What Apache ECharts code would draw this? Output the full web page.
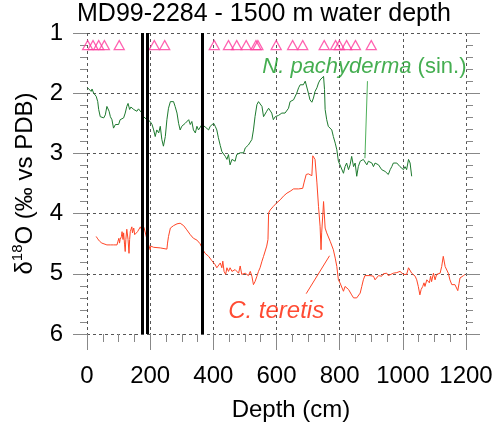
<!DOCTYPE html>
<html>
<head>
<meta charset="utf-8">
<script src="https://cdn.jsdelivr.net/npm/echarts@6/dist/echarts.min.js"></script>
<style>
  html, body { margin: 0; padding: 0; background: #fff; }
  #chart { width: 496px; height: 428px; }
</style>
</head>
<body>
<div id="chart"></div>
<script>
// N. pachyderma (sin.) δ18O: [depth cm, ‰]
const pachydermaData = [[2,1.91],[8,1.89],[13,1.97],[16,1.93],[21,2.00],[26,1.97],[29,2.05],[34,2.14],[37,2.27],[42,2.39],[47,2.40],[53,2.41],[58,2.36],[63,2.22],[66,2.19],[70,2.30],[74,2.39],[79,2.44],[84,2.58],[90,2.52],[95,2.50],[100,2.52],[105,2.44],[111,2.47],[116,2.41],[121,2.33],[126,2.22],[130,2.17],[135,2.27],[139,2.23],[148,2.27],[153,2.25],[158,2.30],[163,2.26],[169,2.27],[174,2.33],[179,2.39],[184,2.41],[190,2.44],[195,2.41],[200,2.47],[206,2.52],[211,2.61],[216,2.72],[221,2.61],[227,2.66],[232,2.55],[237,2.77],[242,2.88],[248,2.72],[253,2.44],[258,2.25],[264,2.14],[269,2.11],[274,2.14],[279,2.22],[285,2.33],[290,2.50],[295,2.61],[300,2.55],[306,2.52],[311,2.50],[316,2.47],[322,2.44],[327,2.52],[332,2.47],[337,2.61],[343,2.66],[348,2.55],[353,2.61],[358,2.58],[364,2.52],[369,2.55],[374,2.56],[380,2.58],[385,2.61],[390,2.55],[395,2.52],[401,2.50],[406,2.55],[411,2.61],[416,2.74],[422,2.87],[427,2.97],[432,2.94],[438,3.05],[443,3.10],[448,3.02],[453,3.19],[459,3.10],[464,3.08],[469,3.13],[474,3.02],[480,3.05],[485,2.99],[490,2.97],[496,2.99],[501,2.91],[506,2.88],[511,2.86],[517,2.83],[522,2.77],[527,2.61],[532,2.39],[538,2.19],[543,2.14],[548,2.16],[554,2.22],[559,2.39],[564,2.36],[569,2.30],[575,2.25],[580,2.22],[585,2.33],[590,2.44],[596,2.39],[601,2.36],[606,2.37],[612,2.36],[617,2.33],[622,2.36],[627,2.33],[633,2.30],[638,2.25],[643,2.14],[654,2.11],[664,2.00],[670,1.91],[675,1.86],[680,1.83],[685,1.86],[691,1.80],[696,1.83],[701,2.00],[706,2.11],[712,2.15],[717,2.08],[722,1.97],[728,1.91],[733,1.83],[738,1.78],[743,1.75],[749,1.72],[752,1.94],[754,2.27],[759,2.44],[764,2.55],[770,2.55],[775,2.61],[780,2.72],[786,2.83],[791,2.94],[796,3.13],[801,3.19],[807,3.16],[812,3.33],[817,3.22],[822,3.16],[828,3.27],[833,3.19],[838,3.05],[844,3.22],[849,3.16],[854,3.38],[859,3.22],[865,3.13],[870,3.16],[875,3.10],[880,3.08],[886,3.19],[891,3.13],[896,3.10],[902,3.16],[907,3.22],[912,3.16],[917,3.13],[923,3.19],[928,3.22],[933,3.27],[938,3.24],[944,3.30],[949,3.33],[954,3.35],[960,3.27],[965,3.22],[970,3.16],[975,3.13],[981,3.16],[986,3.19],[991,3.22],[996,3.24],[1002,3.27],[1007,3.22],[1012,3.27],[1018,3.10],[1023,3.16],[1028,3.38]];

// C. teretis δ18O: [depth cm, ‰]
const teretisData = [[29,4.38],[34,4.42],[40,4.46],[47,4.49],[53,4.50],[63,4.52],[74,4.52],[84,4.52],[95,4.52],[98,4.46],[101,4.41],[103,4.49],[105,4.43],[109,4.38],[111,4.30],[114,4.43],[116,4.32],[119,4.52],[121,4.63],[123,4.43],[126,4.26],[130,4.43],[133,4.66],[135,4.43],[137,4.30],[142,4.22],[144,4.32],[148,4.24],[151,4.35],[156,4.32],[160,4.30],[165,4.27],[169,4.22],[173,4.27],[177,4.20],[181,4.24],[186,4.27],[190,4.43],[200,4.60],[202,4.54],[211,4.56],[232,4.57],[253,4.59],[255,4.49],[258,4.38],[264,4.24],[274,4.20],[285,4.17],[295,4.16],[306,4.20],[316,4.27],[327,4.35],[337,4.41],[348,4.44],[358,4.50],[367,4.60],[374,4.66],[385,4.71],[395,4.78],[406,4.85],[411,4.90],[416,4.88],[422,4.82],[427,4.90],[430,4.79],[434,4.96],[439,5.01],[443,4.90],[448,4.96],[453,4.90],[459,4.96],[464,4.99],[469,4.93],[474,4.94],[480,4.99],[485,4.87],[490,5.01],[496,5.04],[501,4.99],[506,5.01],[511,5.03],[517,4.96],[522,5.04],[527,5.18],[532,5.13],[538,5.04],[543,4.96],[548,4.90],[554,4.79],[559,4.71],[564,4.68],[569,4.54],[573,4.43],[575,3.99],[580,3.94],[590,3.88],[601,3.82],[612,3.77],[622,3.71],[633,3.66],[643,3.63],[654,3.59],[670,3.59],[683,3.58],[687,3.49],[694,3.35],[701,3.34],[706,3.33],[712,3.37],[715,3.04],[717,3.02],[722,3.10],[728,3.49],[733,3.88],[738,4.21],[741,4.60],[743,4.32],[747,3.99],[749,3.80],[751,3.82],[754,4.24],[759,4.32],[770,4.46],[780,4.60],[786,4.74],[791,4.88],[796,5.10],[801,5.15],[807,5.18],[812,5.29],[817,5.21],[822,5.24],[828,5.26],[833,5.24],[838,5.35],[844,5.40],[849,5.37],[854,5.40],[859,5.37],[865,5.32],[870,5.21],[875,5.10],[880,5.03],[886,5.04],[896,5.03],[907,5.04],[912,5.10],[917,5.07],[923,5.03],[928,5.01],[933,5.04],[938,5.00],[944,5.03],[949,4.99],[954,5.03],[960,5.01],[970,4.99],[981,4.98],[991,4.96],[996,4.99],[1002,5.01],[1007,4.99],[1012,5.01],[1018,4.90],[1023,4.93],[1028,4.99],[1033,5.01],[1039,5.04],[1044,5.10],[1049,5.21],[1054,5.35],[1058,5.26],[1063,5.21],[1067,5.15],[1070,5.21],[1076,5.10],[1081,5.07],[1084,5.15],[1088,5.04],[1091,5.13],[1097,4.99],[1102,5.10],[1107,5.01],[1112,5.04],[1118,4.99],[1123,4.88],[1128,4.71],[1131,4.74],[1134,4.88],[1139,4.90],[1144,4.99],[1149,5.10],[1155,5.18],[1160,5.20],[1165,5.18],[1170,5.21],[1174,5.28],[1178,5.16],[1181,5.07],[1186,5.04],[1192,5.03],[1197,5.01]];

// Depths of the dated levels (open triangles) and their plotting row
const datedDepths = [2, 19, 37, 55, 102, 213, 246, 403, 448, 474, 504, 535, 541, 599, 651, 683, 751, 787, 799, 822, 850, 900];
const datedRow = 1.2;

// Depths of the event horizons (black vertical bars)
const eventDepths = [176, 192, 364];

// Leader lines from the species labels to their curves
const pachydermaLeader = [[888, 1.80], [880, 3.08]];
const teretisLeader = [[768, 4.70], [694, 5.33]];

// Label anchors [depth, δ18O]
const pachydermaLabelAt = [555, 1.56];
const teretisLabelAt = [447, 5.63];

const FONT = '"Liberation Sans", Arial, Helvetica, sans-serif';
const GRID_COLOR = '#555';
const TICK_COLOR = '#888';
const GREEN = '#1d7a2e';
const GREEN_TEXT = '#169a26';
const RED = '#ff4526';
const RED_TEXT = '#ff1e00';
const PINK = '#ff3a9c';

const chart = echarts.init(document.getElementById('chart'), null, { renderer: 'canvas' });

const yAxisBase = {
  type: 'value',
  inverse: true,
  min: 1,
  max: 6,
  interval: 1,
  axisLine: { show: false },
  axisTick: { show: true, inside: false, length: 14, lineStyle: { color: TICK_COLOR, width: 1 } },
  minorTick: { show: true, splitNumber: 5, length: 7, lineStyle: { color: TICK_COLOR, width: 1 } }
};

chart.setOption({
  animation: false,
  backgroundColor: '#fff',
  title: [
    {
      text: 'MD99-2284 - 1500 m water depth',
      left: 77, top: 2, padding: 0,
      textStyle: { fontFamily: FONT, fontSize: 25, fontWeight: 'normal', color: '#000' }
    },
    {
      text: 'Depth (cm)',
      left: 291, top: 398, padding: 0, textAlign: 'center',
      textStyle: { fontFamily: FONT, fontSize: 24, fontWeight: 'normal', color: '#000' }
    }
  ],
  grid: { left: 87, right: 30, top: 33, bottom: 94 },
  xAxis: {
    type: 'value',
    min: 0,
    max: 1200,
    interval: 200,
    axisLine: { show: false },
    axisTick: { show: true, inside: false, length: 16, lineStyle: { color: TICK_COLOR, width: 1 } },
    minorTick: { show: true, splitNumber: 4, length: 8, lineStyle: { color: TICK_COLOR, width: 1 } },
    axisLabel: { fontFamily: FONT, fontSize: 24, color: '#000', margin: 30, formatter: v => String(v) },
    splitLine: { show: true, lineStyle: { type: [3, 3], color: GRID_COLOR, width: 1 } }
  },
  yAxis: [
    Object.assign({}, yAxisBase, {
      position: 'left',
      axisLabel: { fontFamily: FONT, fontSize: 24, color: '#000', margin: 24 },
      splitLine: { show: true, lineStyle: { type: [3, 3], color: GRID_COLOR, width: 1 } },
      name: '{t|δ}{s|18}{t|O (‰ vs PDB)}',
      nameLocation: 'middle',
      nameRotate: 90,
      nameGap: 47,
      nameTextStyle: {
        rich: {
          t: { fontFamily: FONT, fontSize: 24, color: '#000', lineHeight: 30 },
          s: { fontFamily: FONT, fontSize: 15, color: '#000', verticalAlign: 'top', lineHeight: 15 }
        }
      }
    }),
    Object.assign({}, yAxisBase, {
      position: 'right',
      axisLabel: { show: false },
      splitLine: { show: false }
    })
  ],
  series: [
    {
      name: 'N. pachyderma (sin.)',
      type: 'line',
      data: pachydermaData,
      showSymbol: false,
      lineStyle: { color: GREEN, width: 1 },
      z: 3
    },
    {
      name: 'C. teretis',
      type: 'line',
      data: teretisData,
      showSymbol: false,
      lineStyle: { color: RED, width: 1 },
      z: 3
    },
    {
      type: 'line',
      data: pachydermaLeader,
      showSymbol: false,
      lineStyle: { color: '#4fb05a', width: 1 },
      z: 2
    },
    {
      type: 'line',
      data: teretisLeader,
      showSymbol: false,
      lineStyle: { color: RED, width: 1 },
      z: 2
    },
    {
      name: 'dated levels',
      type: 'scatter',
      data: datedDepths.map(d => [d, datedRow]),
      symbol: 'triangle',
      symbolSize: [10, 9],
      itemStyle: { color: 'none', borderColor: PINK, borderWidth: 1.3 },
      z: 4,
      markLine: {
        silent: true,
        symbol: ['none', 'none'],
        label: { show: false },
        lineStyle: { color: '#000', width: 3, type: 'solid' },
        data: eventDepths.map(d => ({ xAxis: d }))
      }
    },
    {
      type: 'scatter',
      data: [pachydermaLabelAt],
      symbolSize: 0,
      silent: true,
      label: {
        show: true,
        position: 'right',
        distance: 0,
        formatter: '{i|N. pachyderma}{n| (sin.)}',
        rich: {
          i: { fontFamily: FONT, fontSize: 22, fontStyle: 'italic', color: GREEN_TEXT },
          n: { fontFamily: FONT, fontSize: 22, color: GREEN_TEXT }
        }
      }
    },
    {
      type: 'scatter',
      data: [teretisLabelAt],
      symbolSize: 0,
      silent: true,
      label: {
        show: true,
        position: 'right',
        distance: 0,
        formatter: '{i|C. teretis}',
        rich: {
          i: { fontFamily: FONT, fontSize: 24, fontStyle: 'italic', color: RED_TEXT }
        }
      }
    }
  ]
});
</script>
</body>
</html>
